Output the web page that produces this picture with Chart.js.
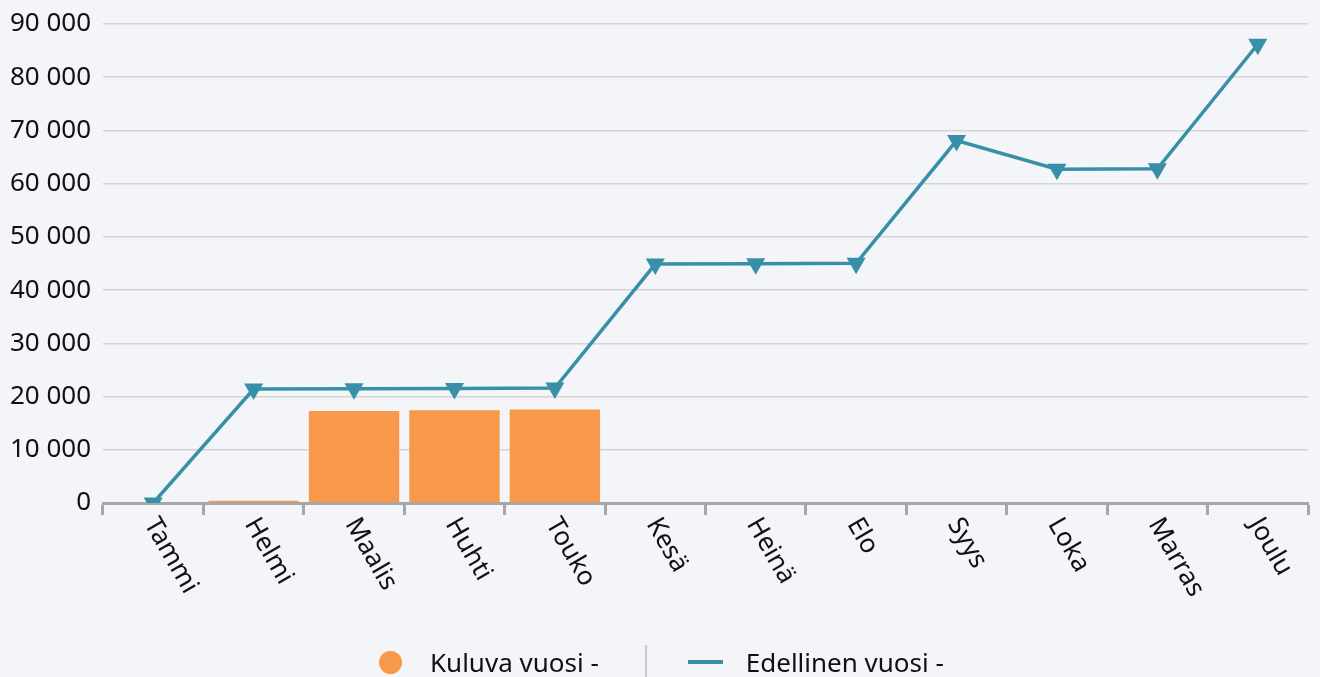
<!DOCTYPE html>
<html>
<head>
<meta charset="utf-8">
<script src="https://cdn.jsdelivr.net/npm/chart.js@4"></script>
<style>
  html, body { margin: 0; padding: 0; background: #f4f5f9; overflow: hidden; }
  #wrap { position: relative; width: 1320px; height: 677px; }
  #legend {
    position: absolute; left: 379px; top: 646px; height: 32px;
    display: flex; align-items: center;
    font-family: "Noto Sans", sans-serif; font-size: 26px; color: #111;
  }
  .item { display: flex; align-items: center; white-space: nowrap; }
  .dot { width: 23px; height: 23px; border-radius: 50%; background: #f7984a; margin-right: 28px; }
  .dash { width: 35px; height: 4px; background: #3790a8; margin-right: 23px; }
  .sep { width: 2px; height: 34px; background: #c9cacf; margin: 0 41px 0 46px; }
</style>
</head>
<body>
<div id="wrap">
  <canvas id="chart" width="1320" height="677"></canvas>
  <div id="legend">
    <div class="item"><span class="dot"></span><span>Kuluva vuosi -</span></div>
    <div class="sep"></div>
    <div class="item"><span class="dash"></span><span>Edellinen vuosi -</span></div>
  </div>
</div>
<script>
const months = ['Tammi', 'Helmi', 'Maalis', 'Huhti', 'Touko', 'Kesä', 'Heinä', 'Elo', 'Syys', 'Loka', 'Marras', 'Joulu'];
const currentYear = [0, 400, 17300, 17430, 17550, null, null, null, null, null, null, null];
const previousYear = [0, 21400, 21450, 21500, 21600, 44900, 44950, 45050, 68100, 62700, 62800, 86200];
const yMax = 90000;
const yStep = 10000;

const FONT = '"Noto Sans", sans-serif';

// rotated month labels (down-right), Chart.js only rotates the other way
const rotatedLabels = {
    id: 'rotatedLabels',
    afterDraw(chart) {
        const ctx = chart.ctx;
        const xs = chart.scales.x;
        ctx.save();
        ctx.font = '26px ' + FONT;
        ctx.fillStyle = '#111';
        ctx.textAlign = 'left';
        ctx.textBaseline = 'middle';
        months.forEach((m, i) => {
            const x = xs.getPixelForValue(i);
            ctx.save();
            ctx.translate(x - 3, xs.top + 17);
            ctx.rotate(60 * Math.PI / 180);
            ctx.fillText(m, 0, 0);
            ctx.restore();
        });
        ctx.restore();
    }
};

new Chart(document.getElementById('chart'), {
    type: 'bar',
    data: {
        labels: months,
        datasets: [
            {
                type: 'line',
                label: 'Edellinen vuosi -',
                data: previousYear,
                borderColor: '#3790a8',
                backgroundColor: '#3790a8',
                borderWidth: 3.5,
                tension: 0,
                pointStyle: 'triangle',
                pointRotation: 180,
                pointRadius: 11,
                pointBorderWidth: 0,
                order: 0
            },
            {
                label: 'Kuluva vuosi -',
                data: currentYear,
                backgroundColor: '#f7984a',
                borderWidth: 0,
                barPercentage: 0.9,
                categoryPercentage: 1,
                order: 1
            }
        ]
    },
    options: {
        responsive: false,
        animation: false,
        layout: { padding: { top: 24, right: 12, left: 0, bottom: 0 } },
        plugins: {
            legend: { display: false },
            tooltip: { enabled: false }
        },
        scales: {
            x: {
                offset: true,
                grid: {
                    offset: true,
                    drawOnChartArea: false,
                    drawTicks: true,
                    tickLength: 12,
                    tickWidth: 3,
                    tickColor: '#a5a7ac'
                },
                border: { display: true, color: '#a5a7ac', width: 3 },
                ticks: { display: false },
                afterFit(scale) { scale.height = 174; }
            },
            y: {
                min: 0,
                max: yMax,
                border: { display: false },
                grid: { color: '#d3d4d8', lineWidth: 1.5, drawTicks: false },
                ticks: {
                    stepSize: yStep,
                    padding: 12,
                    color: '#111',
                    font: { family: FONT, size: 26 },
                    callback: v => String(v).replace(/\B(?=(\d{3})+(?!\d))/g, ' ')
                },
                afterFit(scale) {
                    scale.width = 103;
                    scale.paddingTop = 0;
                    scale.paddingBottom = 0;
                }
            }
        }
    },
    plugins: [rotatedLabels]
});
</script>
</body>
</html>
